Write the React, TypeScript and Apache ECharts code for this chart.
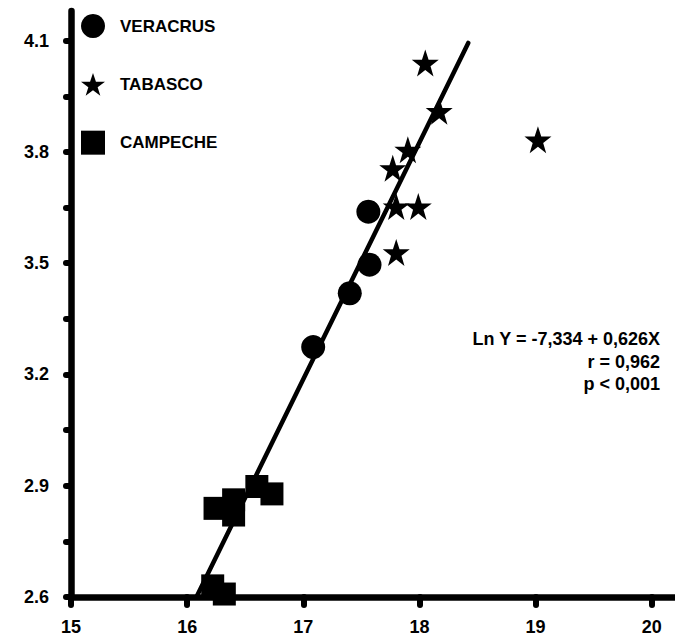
import React, { useEffect, useRef } from "react";
import * as echarts from "echarts";

const xTicks = [15, 16, 17, 18, 19, 20];
const yLabelTicks = [2.6, 2.9, 3.2, 3.5, 3.8, 4.1];
const yMinorTicks = [2.6, 2.75, 2.9, 3.05, 3.2, 3.35, 3.5, 3.65, 3.8, 3.95, 4.1];

const veracrus: number[][] = [
  [17.56, 3.639],
  [17.57, 3.496],
  [17.4, 3.419],
  [17.085, 3.274],
];
const tabasco: number[][] = [
  [18.05, 4.04],
  [18.17, 3.91],
  [19.02, 3.833],
  [17.9, 3.806],
  [17.77, 3.756],
  [17.8, 3.653],
  [17.99, 3.653],
  [17.8, 3.529],
];
const campeche: number[][] = [
  [16.24, 2.839],
  [16.4, 2.862],
  [16.4, 2.821],
  [16.6, 2.898],
  [16.73, 2.878],
  [16.22, 2.63],
  [16.32, 2.608],
];
const fitLine: number[][] = [
  [16.08, 2.6],
  [18.42, 4.094],
];
const equationLines = ["Ln Y = -7,334 + 0,626X", "r = 0,962", "p < 0,001"];

const STAR =
  "path://M50,0 L61.8,35.1 L98.1,35.1 L68.7,56.7 L79.4,90.9 L50,69.1 L20.6,90.9 L31.3,56.7 L1.9,35.1 L38.2,35.1 Z";
const FONT = "'Liberation Sans', Arial, sans-serif";

export default function App() {
  const ref = useRef<HTMLDivElement>(null);
  useEffect(() => {
    if (!ref.current) return;
    const chart = echarts.init(ref.current, null, { renderer: "svg" });
    const labelStyle = {
      color: "#000",
      fontFamily: FONT,
      fontWeight: "bold" as const,
      fontSize: 18,
    };
    const axisLineStyle = { color: "#000", width: 6.5, cap: "round" as const };
    const tickStyle = { color: "#000", width: 6, cap: "round" as const };
    const markStyle = { color: "#000", opacity: 1 };
    chart.setOption({
      animation: false,
      backgroundColor: "#fff",
      grid: { left: 71, right: 0, top: 11, bottom: 41, containLabel: false },
      legend: {
        orient: "vertical",
        left: 81,
        top: 14,
        padding: 0,
        itemWidth: 24,
        itemHeight: 24,
        itemGap: 35,
        selectedMode: false,
        data: [
          { name: "VERACRUS", icon: "circle", itemStyle: markStyle },
          { name: "TABASCO", icon: STAR, itemStyle: markStyle },
          { name: "CAMPECHE", icon: "rect", itemStyle: markStyle },
        ],
        textStyle: {
          color: "#000",
          fontFamily: FONT,
          fontWeight: "bold",
          fontSize: 17,
          padding: [0, 0, 0, 10],
        },
      },
      xAxis: {
        type: "value",
        min: 15,
        max: 20.2,
        splitLine: { show: false },
        axisLine: { show: true, onZero: false, lineStyle: axisLineStyle },
        axisTick: {
          show: true,
          length: 8,
          inside: false,
          lineStyle: tickStyle,
          customValues: xTicks,
        },
        axisLabel: { ...labelStyle, margin: 21, customValues: xTicks },
      },
      yAxis: {
        type: "value",
        min: 2.6,
        max: 4.18,
        splitLine: { show: false },
        axisLine: { show: true, onZero: false, lineStyle: axisLineStyle },
        axisTick: {
          show: true,
          length: 5,
          lineStyle: tickStyle,
          customValues: yMinorTicks,
        },
        axisLabel: {
          ...labelStyle,
          margin: 22,
          customValues: yLabelTicks,
          formatter: (v: number) => v.toFixed(1),
        },
      },
      graphic: equationLines.map((t, i) => ({
        type: "text",
        right: 15,
        top: 330 + i * 22.5,
        style: {
          text: t,
          fill: "#000",
          font: `bold 18px ${FONT}`,
          textAlign: "right",
        },
      })),
      series: [
        {
          type: "line",
          name: "fit",
          data: fitLine,
          symbol: "none",
          lineStyle: { color: "#000", width: 4.5, cap: "round", opacity: 1 },
          z: 1,
          silent: true,
        },
        {
          type: "scatter",
          name: "VERACRUS",
          data: veracrus,
          symbol: "circle",
          symbolSize: 24,
          itemStyle: markStyle,
          clip: false,
          z: 3,
        },
        {
          type: "scatter",
          name: "TABASCO",
          data: tabasco,
          symbol: STAR,
          symbolSize: 27,
          itemStyle: markStyle,
          clip: false,
          z: 3,
        },
        {
          type: "scatter",
          name: "CAMPECHE",
          data: campeche,
          symbol: "rect",
          symbolSize: 23,
          itemStyle: markStyle,
          clip: false,
          z: 3,
        },
      ],
    });
    return () => chart.dispose();
  }, []);
  return (
    <div
      ref={ref}
      style={{ position: "fixed", left: 0, top: 0, width: 675, height: 638, background: "#fff" }}
    />
  );
}
